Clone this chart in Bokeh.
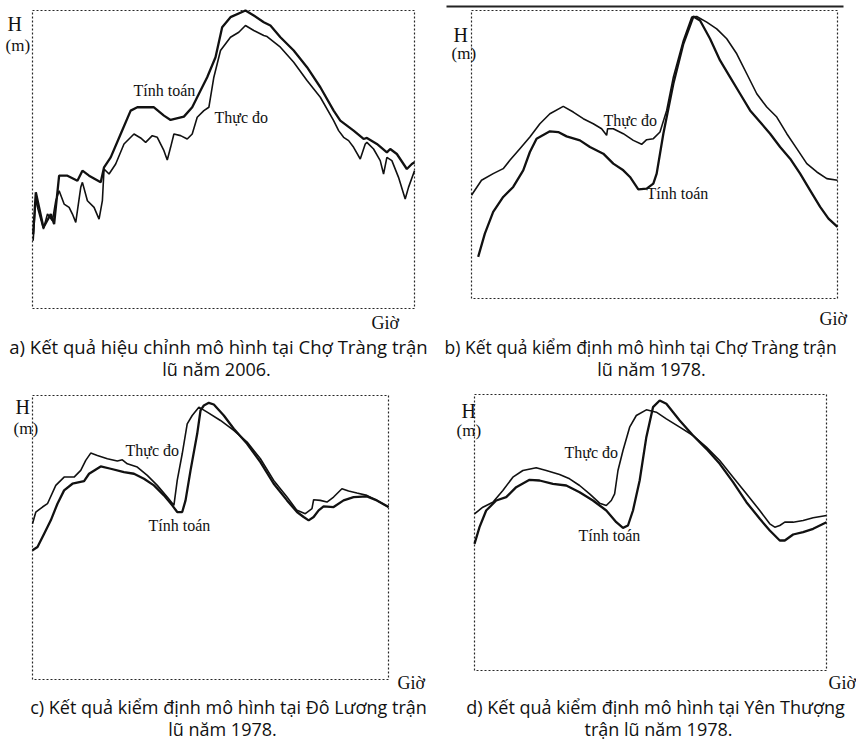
from bokeh.plotting import figure
from bokeh.layouts import row, column
from bokeh.models import Range1d, Label, BoxAnnotation
from bokeh.embed import file_html
from bokeh.resources import INLINE

# ---------------- data (time in hours, H in m) ----------------
# a) Chợ Tràng 2006
a_tt_t = [0.5, 2.5, 8.25, 13.75, 16.25, 20, 26.25, 33.75, 37.5, 42.5, 51.25, 53.75, 58.75, 66.25,
          73.75, 78.75, 91.25, 98.75, 103.75, 113.75, 120, 126.25, 131.25, 137.5, 142.5, 148.75,
          160, 166.25, 173.75, 178.75, 186.25, 196.25, 206.25, 216.25, 226.25, 231.25, 241.25,
          248.75, 251.25, 258.75, 266.25, 268.75, 273.75, 281.25, 285, 287]
a_tt_h = [2.23, 3.48, 2.43, 2.83, 2.53, 3.98, 3.98, 3.83, 4.13, 3.98, 3.78, 4.23, 4.53, 5.23,
          5.93, 6.03, 6.03, 5.78, 5.65, 5.75, 6.03, 6.53, 6.93, 7.53, 8.43, 8.73,
          8.93, 8.78, 8.58, 8.48, 8.13, 7.73, 7.23, 6.63, 5.93, 5.63, 5.33,
          5.08, 5.11, 4.93, 4.68, 4.78, 4.63, 4.18, 4.33, 4.38]
a_td_t = [0.5, 2.5, 3.75, 8.25, 11.25, 15, 17.5, 20, 23.75, 27.5, 30, 32.5, 36.25, 37.5, 41.25,
          46.25, 50, 52.5, 53.75, 57.5, 62.5, 68.75, 76.25, 81.25, 85, 90, 93.75, 98.75, 101.25,
          103.75, 106.25, 111.25, 116.25, 120, 123.75, 128.75, 132.5, 136.25, 141.25, 148.75,
          155, 160, 166.25, 173.75, 176.25, 186.25, 196.25, 206.25, 216.25, 226.25, 230,
          233.75, 237.5, 241.25, 246.25, 250, 251.25, 256.25, 261.25, 263.75, 266.25, 270,
          275, 280, 282.5, 287]
a_td_h = [2.03, 3.33, 3.03, 2.38, 2.83, 2.63, 3.23, 3.53, 3.13, 3.03, 2.83, 2.58, 3.63, 3.78, 3.23,
          3.03, 2.68, 3.23, 4.18, 4.03, 4.33, 4.93, 5.23, 5.11, 4.98, 5.18, 5.13, 4.73, 4.45,
          4.83, 5.23, 5.18, 5.08, 5.23, 5.73, 5.93, 6.03, 6.93, 7.73, 8.13,
          8.28, 8.48, 8.33, 8.18, 8.15, 7.83, 7.38, 6.83, 6.33, 5.63, 5.33,
          5.13, 5.03, 4.83, 4.48, 4.93, 4.98, 4.78, 4.43, 4.03, 4.53, 4.43,
          3.93, 3.28, 3.63, 4.13]

# b) Chợ Tràng 1978
b_td_t = [0, 7.5, 16.25, 23.75, 28.75, 36.25, 43.75, 51.25, 58.75, 68.75, 76.25, 83.75, 91.25,
          97.5, 101.25, 102, 106.25, 113.75, 121.25, 127.5, 131.25, 136.25, 141.25, 146.25,
          151.25, 158.75, 165, 168.75, 176.25, 183.75, 191.25, 198.75, 206.25, 213.75, 221.25,
          228.75, 236.25, 243.75, 251.25, 258.75, 266.25, 274.25]
b_td_h = [3.10, 3.55, 3.75, 3.90, 4.15, 4.50, 4.85, 5.25, 5.55, 5.77, 5.60, 5.40, 5.25,
          5.10, 4.90, 5.10, 5.10, 4.95, 4.75, 4.63, 4.77, 4.80, 5.00, 5.65,
          6.65, 7.75, 8.45, 8.47, 8.30, 8.10, 7.80, 7.35, 6.75, 6.15, 5.75,
          5.45, 4.95, 4.50, 4.05, 3.80, 3.60, 3.55]
b_tt_t = [5, 10, 16.25, 23.75, 31.25, 38.75, 43.75, 48.75, 58.75, 65, 71.25, 81.25, 88.75, 98.75,
          106.25, 113.75, 118.75, 125, 131.25, 136.25, 138.75, 143.75, 151.25, 158.75, 166.25,
          171.25, 178.75, 186.25, 193.75, 201.25, 208.75, 216.25, 223.75, 231.25, 238.75,
          246.25, 253.75, 261.25, 267.5, 274.25]
b_tt_h = [1.25, 1.95, 2.60, 3.05, 3.35, 3.85, 4.40, 4.80, 5.02, 5.00, 4.87, 4.75, 4.55, 4.35,
          4.05, 3.85, 3.65, 3.28, 3.30, 3.45, 3.75, 4.95, 6.45, 7.65, 8.47,
          8.35, 7.80, 7.15, 6.65, 6.15, 5.65, 5.30, 4.95, 4.55, 4.20,
          3.75, 3.25, 2.75, 2.40, 2.15]

# c) Đô Lương 1978
c_td_t = [0, 2.5, 7.5, 11.25, 17.5, 23.75, 31.25, 36.25, 40, 43.75, 48.75, 56.25, 63.75, 67.5,
          71.25, 78.75, 86.25, 93.75, 101.25, 106.25, 108.75, 112.5, 116.25, 120, 125, 131.25,
          141.25, 151.25, 161.25, 171.25, 181.25, 191.25, 198.75, 205, 210, 211.25, 216.25,
          221.25, 226.25, 232.5, 237.5, 243.75, 251.25, 258.75, 267.5]
c_td_h = [4.68, 5.03, 5.18, 5.28, 5.83, 6.08, 6.08, 6.28, 6.58, 6.80, 6.73, 6.63, 6.56, 6.60,
          6.48, 6.38, 6.13, 5.83, 5.48, 5.23, 5.98, 6.78, 7.68, 7.93, 8.18, 8.03,
          7.78, 7.48, 7.13, 6.63, 5.98, 5.48, 5.08, 4.98, 5.13, 5.40, 5.38,
          5.33, 5.48, 5.73, 5.66, 5.60, 5.53, 5.38, 5.18]
c_tt_t = [0, 3.75, 8.75, 13.75, 18.75, 23.75, 30, 38.75, 42.5, 51.25, 58.75, 68.75, 76.25, 83.75,
          91.25, 98.75, 105, 108.75, 112.5, 115, 118.75, 123.75, 126.25, 128.75, 132.5, 136.25,
          143.75, 151.25, 161.25, 171.25, 181.25, 191.25, 198.75, 203.75, 207.5, 211.25, 215,
          218.75, 226.25, 233.75, 241.25, 251.25, 258.75, 267.5]
c_tt_h = [3.88, 3.98, 4.38, 4.78, 5.28, 5.68, 5.88, 5.96, 6.18, 6.40, 6.33, 6.23, 6.18, 6.03,
          5.83, 5.53, 5.23, 5.03, 5.03, 5.38, 6.28, 7.38, 8.08, 8.23, 8.31, 8.26,
          7.93, 7.53, 7.08, 6.53, 5.88, 5.38, 5.03, 4.88, 4.78, 4.88, 5.08,
          5.20, 5.18, 5.38, 5.48, 5.50, 5.38, 5.18]

# d) Yên Thượng 1978
d_td_t = [0, 6.25, 13.75, 21.25, 28.75, 36.25, 46.25, 53.75, 63.75, 71.25, 78.75, 86.25, 93.75,
          98.75, 102.5, 105, 107.5, 111.25, 116.25, 121.25, 128.75, 136.25, 143.75, 153.75,
          163.75, 173.75, 183.75, 193.75, 203.75, 213.75, 221.25, 225, 228.75, 232.5, 238.75,
          246.25, 253.75, 263.75]
d_td_h = [4.70, 4.90, 5.05, 5.40, 5.80, 6.00, 6.08, 6.00, 5.88, 5.75, 5.55, 5.30, 5.02,
          4.95, 5.10, 5.30, 6.00, 6.60, 7.30, 7.65, 7.82, 7.75, 7.55, 7.30,
          7.05, 6.70, 6.30, 5.80, 5.30, 4.80, 4.40, 4.30, 4.35, 4.45, 4.45,
          4.50, 4.58, 4.65]
d_tt_t = [0, 3.75, 8.75, 16.25, 23.75, 31.25, 41.25, 48.75, 58.75, 68.75, 78.75, 88.75, 98.75,
          106.25, 111.25, 115, 118.75, 123.75, 128.75, 133.75, 138.75, 143.75, 153.75, 163.75,
          173.75, 183.75, 193.75, 203.75, 213.75, 221.25, 228.75, 232.5, 238.75, 246.25,
          253.75, 263.75]
d_tt_h = [3.80, 4.30, 4.80, 5.10, 5.20, 5.50, 5.72, 5.70, 5.60, 5.55, 5.35, 5.10, 4.80,
          4.45, 4.28, 4.35, 4.80, 5.70, 7.00, 7.90, 8.10, 8.00, 7.50, 7.05,
          6.65, 6.20, 5.65, 5.05, 4.55, 4.20, 3.90, 3.90, 4.08, 4.15,
          4.25, 4.45]

captions = {
    "a": ["a) Kết quả hiệu chỉnh mô hình tại Chợ Tràng trận", "lũ năm 2006."],
    "b": ["b) Kết quả kiểm định mô hình tại Chợ Tràng trận", "lũ năm 1978."],
    "c": ["c) Kết quả kiểm định mô hình tại Đô Lương trận", "lũ năm 1978."],
    "d": ["d) Kết quả kiểm định mô hình tại Yên Thượng", "trận lũ năm 1978."],
}

SERIF = "Liberation Serif"
SANS = "Open Sans"
INK = "#111111"


def make_panel(fx, fy, fw, fh, L, R, T, B, xmax, ymax, td, tt):
    """fx, fy, fw, fh: figure box on the page; L, R, T, B: the dotted plot box on the page.
    The drawing frame covers the whole figure so that texts beside the box stay visible."""
    sx = xmax / (R - L)
    sy = ymax / (B - T)
    x0 = -(L - fx) * sx
    x1 = xmax + (fx + fw - R) * sx
    y0 = -(fy + fh - B) * sy
    y1 = ymax + (T - fy) * sy
    p = figure(width=fw, height=fh, x_range=Range1d(x0, x1), y_range=Range1d(y0, y1),
               output_backend="svg", toolbar_location=None, title=None,
               min_border=0)
    p.xaxis.visible = False
    p.yaxis.visible = False
    p.grid.visible = False
    p.outline_line_color = None
    p.background_fill_color = "white"
    p.border_fill_color = "white"
    # dotted box of the chart (data extent)
    p.add_layout(BoxAnnotation(left=0, right=xmax, bottom=0, top=ymax, fill_color=None,
                               line_color="#000000", line_dash="2 2", line_width=1.2,
                               line_alpha=0.85))
    p.line(td[0], td[1], line_color=INK, line_width=1.6)
    p.line(tt[0], tt[1], line_color=INK, line_width=2.3)

    def px2x(px):
        return (px - L) * sx

    def py2y(py):
        return (B - py) * sy

    def lab(px, py, text, font=SERIF, size="16px", align="left"):
        p.add_layout(Label(x=px2x(px), y=py2y(py), text=text, text_font=font,
                           text_font_size=size, text_align=align, text_baseline="middle",
                           text_color=INK))
    return p, lab, px2x, py2y


W = 428
H1, H2 = 382, 361
CAP = "18px"

pa, la, _, _ = make_panel(0, 0, W, H1, 32, 414, 10, 308, 287, 8.93,
                          (a_td_t, a_td_h), (a_tt_t, a_tt_h))
la(7, 23, "H", size="20px"); la(5, 45, "(m)", size="17px")
la(133, 90, "Tính toán"); la(214, 117, "Thực đo"); la(371, 322, "Giờ", size="18px")
la(218, 346, captions["a"][0], font=SANS, size="18.5px", align="center")
la(216, 368, captions["a"][1], font=SANS, size=CAP, align="center")

pb, lb, bx, by = make_panel(428, 0, W, H1, 471, 837, 10, 298, 274.25, 8.65,
                            (b_td_t, b_td_h), (b_tt_t, b_tt_h))
pb.add_layout(BoxAnnotation(left=bx(446), right=bx(843), bottom=by(7), top=by(5),
                            fill_color="#222222", fill_alpha=1, line_color=None))
lb(453, 34, "H", size="20px"); lb(451, 53, "(m)", size="17px")
lb(603, 120, "Thực đo"); lb(646, 193, "Tính toán"); lb(819, 318, "Giờ", size="18px")
lb(444, 346, captions["b"][0], font=SANS, size="17.5px", align="left")
lb(651, 368, captions["b"][1], font=SANS, size=CAP, align="center")

pc, lc, _, _ = make_panel(0, 382, W, H2, 32, 388, 395, 679, 267.5, 8.53,
                          (c_td_t, c_td_h), (c_tt_t, c_tt_h))
lc(15, 406, "H", size="20px"); lc(13, 428, "(m)", size="17px")
lc(125, 450, "Thực đo"); lc(148, 525, "Tính toán"); lc(397, 682, "Giờ", size="18px")
lc(228, 706, captions["c"][0], font=SANS, size=CAP, align="center")
lc(222, 728, captions["c"][1], font=SANS, size=CAP, align="center")

pd_, ld, _, _ = make_panel(428, 382, W, H2, 474, 826, 394, 670, 263.75, 8.28,
                           (d_td_t, d_td_h), (d_tt_t, d_tt_h))
ld(461, 410, "H", size="20px"); ld(456, 430, "(m)", size="17px")
ld(564, 452, "Thực đo"); ld(578, 535, "Tính toán"); ld(828, 682, "Giờ", size="18px")
ld(655, 706, captions["d"][0], font=SANS, size=CAP, align="center")
ld(658, 728, captions["d"][1], font=SANS, size=CAP, align="center")

layout = column(row(pa, pb), row(pc, pd_))

open("out.html", "w").write(file_html(layout, INLINE))
